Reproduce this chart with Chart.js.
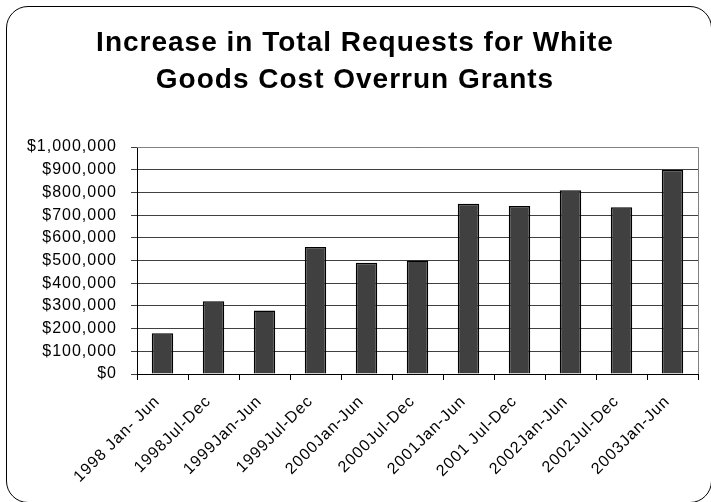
<!DOCTYPE html>
<html lang="en">
<head>
<meta charset="utf-8">
<title>White Goods Cost Overrun Grants</title>
<style>
body { margin: 0; background: #fff; }
.holder { position: relative; width: 711px; height: 502px; overflow: hidden; }
.frame {
    position: absolute;
    left: 6px; top: 6px;
    width: 706px; height: 497px;
    box-sizing: border-box;
    border: 1.5px solid #000;
    border-radius: 22px;
    pointer-events: none;
}
</style>
</head>
<body>
<div class="holder">
    <canvas id="canvas" width="711" height="502"></canvas>
    <div class="frame"></div>
</div>

<script src="https://cdn.jsdelivr.net/npm/chart.js"></script>
<script>
// half-year periods and the dollar total requested in each
const periods = ["1998 Jan- Jun", "1998Jul-Dec", "1999Jan-Jun", "1999Jul-Dec", "2000Jan-Jun",
    "2000Jul-Dec", "2001Jan-Jun", "2001 Jul-Dec", "2002Jan-Jun", "2002Jul-Dec", "2003Jan-Jun"];
const requests = [180000, 320000, 280000, 560000, 490000, 500000, 750000, 740000, 810000, 735000, 900000];
const yMax = 1000000;
const yStep = 100000;

const font = "'Liberation Sans', Arial, sans-serif";

// gray border on the top/right of the plot area
const plotBorder = {
    id: 'plotBorder',
    afterDraw(chart) {
        const a = chart.chartArea, c = chart.ctx;
        c.save();
        c.strokeStyle = '#808080';
        c.lineWidth = 1;
        c.beginPath();
        c.moveTo(a.left, a.top + 0.5);
        c.lineTo(a.right + 0.5, a.top + 0.5);
        c.lineTo(a.right + 0.5, a.bottom);
        c.stroke();
        c.restore();
    }
};

// the text is set a little wider than plain Arial
const wideText = {
    id: 'wideText',
    beforeDraw(chart) { chart.ctx.letterSpacing = '1px'; },
    afterDraw(chart) { chart.ctx.letterSpacing = '0px'; }
};

const ctx = document.getElementById('canvas').getContext('2d');
new Chart(ctx, {
    type: 'bar',
    data: {
        labels: periods,
        datasets: [{
            data: requests,
            backgroundColor: '#404040',
            borderColor: '#000',
            borderWidth: 1.5,
            barPercentage: 0.42,
            categoryPercentage: 1
        }]
    },
    options: {
        responsive: false,
        animation: false,
        layout: { padding: { left: 12, right: 13, top: 0, bottom: 0 } },
        plugins: {
            legend: { display: false },
            tooltip: { enabled: false },
            title: {
                display: true,
                text: ["Increase in Total Requests for White", "Goods Cost Overrun Grants"],
                color: '#000',
                font: { family: font, size: 28, weight: 'bold', lineHeight: 37 / 28 },
                padding: { top: 25, bottom: 48 }
            }
        },
        scales: {
            x: {
                grid: { offset: true, drawOnChartArea: false, color: '#000', tickLength: 6 },
                border: { color: '#000', width: 1 },
                ticks: {
                    color: '#000',
                    padding: 12,
                    labelOffset: -5,
                    font: { family: font, size: 16 },
                    minRotation: 45, maxRotation: 45,
                    autoSkip: false
                },
                afterFit(s) { s.height = 128; }
            },
            y: {
                min: 0, max: yMax,
                grid: { color: '#404040', tickLength: 6 },
                border: { color: '#000', width: 1 },
                ticks: {
                    stepSize: yStep,
                    color: '#000',
                    padding: 14,
                    font: { family: font, size: 16 },
                    callback: v => '$' + v.toLocaleString('en-US')
                },
                afterFit(s) { s.width = 125; }
            }
        }
    },
    plugins: [wideText, plotBorder]
});
</script>
</body>
</html>
